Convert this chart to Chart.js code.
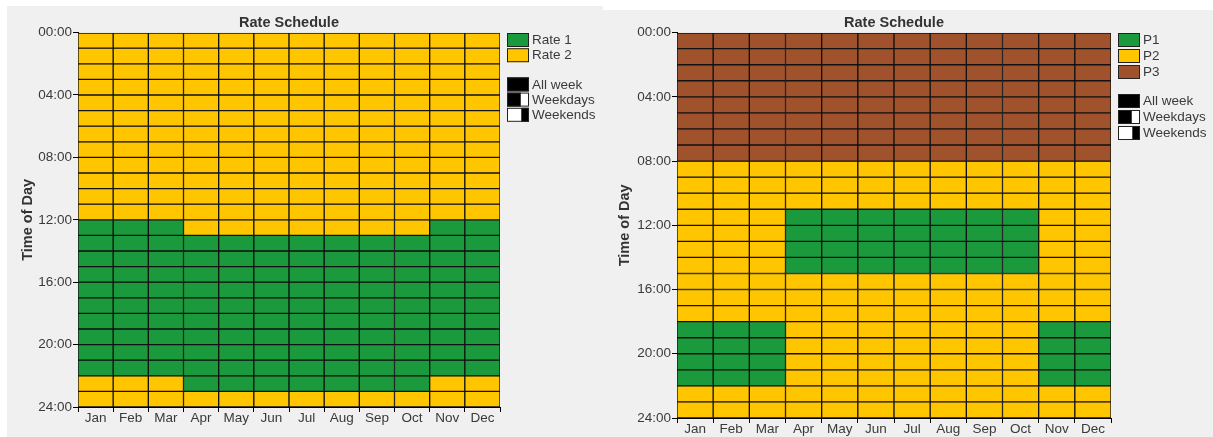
<!DOCTYPE html>
<html>
<head>
<meta charset="utf-8">
<script src="https://cdn.jsdelivr.net/npm/chart.js@4.4.0/dist/chart.umd.min.js"></script>
<style>
  body { margin: 0; width: 1213px; height: 437px; background: #fff; position: relative; overflow: hidden; }
  .panel { position: absolute; background: #f0f0f0; }
  #p1 { left: 7px; top: 6px; width: 596px; height: 431px; }
  #p2 { left: 603px; top: 10px; width: 610px; height: 427px; }
</style>
</head>
<body>
<div class="panel" id="p1"><canvas id="c1"></canvas></div>
<div class="panel" id="p2"><canvas id="c2"></canvas></div>
<script>
const months = ['Jan', 'Feb', 'Mar', 'Apr', 'May', 'Jun', 'Jul', 'Aug', 'Sep', 'Oct', 'Nov', 'Dec'];
const timeTicks = ['00:00', '04:00', '08:00', '12:00', '16:00', '20:00', '24:00'];

const rateNames = ['Rate 1', 'Rate 2'];
const rateColors = ['#1a9a3c', '#ffc600'];
const periodNames = ['P1', 'P2', 'P3'];
const periodColors = ['#1a9a3c', '#ffc600', '#a0522d'];
const weekNames = ['All week', 'Weekdays', 'Weekends'];

// one row per hour (00:00 .. 23:00), one code per month Jan..Dec
const rateSchedule = [
  [2,2,2,2,2,2,2,2,2,2,2,2],
  [2,2,2,2,2,2,2,2,2,2,2,2],
  [2,2,2,2,2,2,2,2,2,2,2,2],
  [2,2,2,2,2,2,2,2,2,2,2,2],
  [2,2,2,2,2,2,2,2,2,2,2,2],
  [2,2,2,2,2,2,2,2,2,2,2,2],
  [2,2,2,2,2,2,2,2,2,2,2,2],
  [2,2,2,2,2,2,2,2,2,2,2,2],
  [2,2,2,2,2,2,2,2,2,2,2,2],
  [2,2,2,2,2,2,2,2,2,2,2,2],
  [2,2,2,2,2,2,2,2,2,2,2,2],
  [2,2,2,2,2,2,2,2,2,2,2,2],
  [1,1,1,2,2,2,2,2,2,2,1,1],
  [1,1,1,1,1,1,1,1,1,1,1,1],
  [1,1,1,1,1,1,1,1,1,1,1,1],
  [1,1,1,1,1,1,1,1,1,1,1,1],
  [1,1,1,1,1,1,1,1,1,1,1,1],
  [1,1,1,1,1,1,1,1,1,1,1,1],
  [1,1,1,1,1,1,1,1,1,1,1,1],
  [1,1,1,1,1,1,1,1,1,1,1,1],
  [1,1,1,1,1,1,1,1,1,1,1,1],
  [1,1,1,1,1,1,1,1,1,1,1,1],
  [2,2,2,1,1,1,1,1,1,1,2,2],
  [2,2,2,2,2,2,2,2,2,2,2,2]
];

const periodSchedule = [
  [3,3,3,3,3,3,3,3,3,3,3,3],
  [3,3,3,3,3,3,3,3,3,3,3,3],
  [3,3,3,3,3,3,3,3,3,3,3,3],
  [3,3,3,3,3,3,3,3,3,3,3,3],
  [3,3,3,3,3,3,3,3,3,3,3,3],
  [3,3,3,3,3,3,3,3,3,3,3,3],
  [3,3,3,3,3,3,3,3,3,3,3,3],
  [3,3,3,3,3,3,3,3,3,3,3,3],
  [2,2,2,2,2,2,2,2,2,2,2,2],
  [2,2,2,2,2,2,2,2,2,2,2,2],
  [2,2,2,2,2,2,2,2,2,2,2,2],
  [2,2,2,1,1,1,1,1,1,1,2,2],
  [2,2,2,1,1,1,1,1,1,1,2,2],
  [2,2,2,1,1,1,1,1,1,1,2,2],
  [2,2,2,1,1,1,1,1,1,1,2,2],
  [2,2,2,2,2,2,2,2,2,2,2,2],
  [2,2,2,2,2,2,2,2,2,2,2,2],
  [2,2,2,2,2,2,2,2,2,2,2,2],
  [1,1,1,2,2,2,2,2,2,2,1,1],
  [1,1,1,2,2,2,2,2,2,2,1,1],
  [1,1,1,2,2,2,2,2,2,2,1,1],
  [1,1,1,2,2,2,2,2,2,2,1,1],
  [2,2,2,2,2,2,2,2,2,2,2,2],
  [2,2,2,2,2,2,2,2,2,2,2,2]
];

const FONT = '"Liberation Sans", Arial, sans-serif';
const TEXT = '#3a3a3a';

// each hour row becomes a dataset of floating bars, one per month
function hourSets(schedule, colors) {
  return schedule.map((row, h) => ({
    label: 'hour ' + h,
    data: row.map(() => [h, h + 1]),
    backgroundColor: row.map(c => colors[c - 1]),
    borderColor: '#111',
    borderWidth: 1,
    borderSkipped: false,
    categoryPercentage: 1,
    barPercentage: 1
  }));
}

function keyBox(ctx, x, y, parts) {
  parts.forEach(([a, b, col]) => {
    ctx.fillStyle = col;
    ctx.fillRect(x + a * 22, y, (b - a) * 22, 14);
  });
  ctx.strokeStyle = '#222';
  ctx.lineWidth = 1;
  ctx.strokeRect(x + 0.5, y + 0.5, 21, 13);
}

const keyPlugin = {
  id: 'key',
  afterDraw(chart, args, opts) {
    const ctx = chart.ctx, area = chart.chartArea;
    const x = Math.round(area.right) + 7;
    let y = Math.round(area.top);
    ctx.save();
    ctx.font = '13.5px ' + FONT;
    ctx.textBaseline = 'middle';
    opts.names.forEach((name, i) => {
      keyBox(ctx, x, y, [[0, 1, opts.colors[i]]]);
      ctx.fillStyle = TEXT;
      ctx.fillText(name, x + 25, y + 7.5);
      y += opts.step;
    });
    y += opts.gap;
    const patterns = [
      [[0, 1, '#000']],
      [[0, 0.63, '#000'], [0.63, 1, '#fff']],
      [[0, 0.65, '#fff'], [0.65, 1, '#000']]
    ];
    weekNames.forEach((name, i) => {
      keyBox(ctx, x, y, patterns[i]);
      ctx.fillStyle = TEXT;
      ctx.fillText(name, x + 25, y + 7.5);
      y += opts.step;
    });
    ctx.restore();
  }
};

function makeChart(id, schedule, names, colors, cfg) {
  return new Chart(document.getElementById(id), {
    type: 'bar',
    data: { labels: months, datasets: hourSets(schedule, colors) },
    plugins: [keyPlugin],
    options: {
      responsive: true,
      maintainAspectRatio: false,
      animation: false,
      layout: { padding: { right: cfg.padRight } },
      plugins: {
        legend: { display: false },
        tooltip: { enabled: false },
        title: {
          display: true,
          text: 'Rate Schedule',
          fullSize: false,
          color: '#333',
          font: { family: FONT, size: 14.5, weight: 'bold' },
          padding: cfg.titlePad
        },
        key: { names: names, colors: colors, step: cfg.step, gap: cfg.gap }
      },
      scales: {
        x: {
          stacked: true,
          grid: { offset: true, drawOnChartArea: false, tickLength: 5, color: '#000' },
          border: { color: '#000' },
          ticks: { color: TEXT, font: { family: FONT, size: 13.5 }, padding: -2, maxRotation: 0, autoSkip: false },
          afterFit(s) { s.height = cfg.xHeight; }
        },
        y: {
          min: 0,
          max: 24,
          reverse: true,
          grid: { drawOnChartArea: false, tickLength: 5, color: '#000' },
          border: { color: '#000' },
          ticks: {
            stepSize: 4,
            padding: 1,
            color: TEXT,
            font: { family: FONT, size: 13.5 },
            callback: v => timeTicks[v / 4]
          },
          title: {
            display: true,
            text: 'Time of Day',
            color: '#333',
            font: { family: FONT, size: 14.5, weight: 'bold' },
            padding: { top: cfg.yTitleTop, bottom: 0 }
          },
          afterFit(s) { s.width = cfg.yWidth; }
        }
      }
    }
  });
}

makeChart('c1', rateSchedule, rateNames, rateColors, {
  padRight: 103, xHeight: 30, yWidth: 71, yTitleTop: 12.6,
  titlePad: { top: 8, bottom: 1.2 }, step: 15.2, gap: 14
});
makeChart('c2', periodSchedule, periodNames, periodColors, {
  padRight: 102, xHeight: 19, yWidth: 74, yTitleTop: 13.6,
  titlePad: { top: 4, bottom: 1.2 }, step: 16, gap: 13
});
</script>
</body>
</html>
